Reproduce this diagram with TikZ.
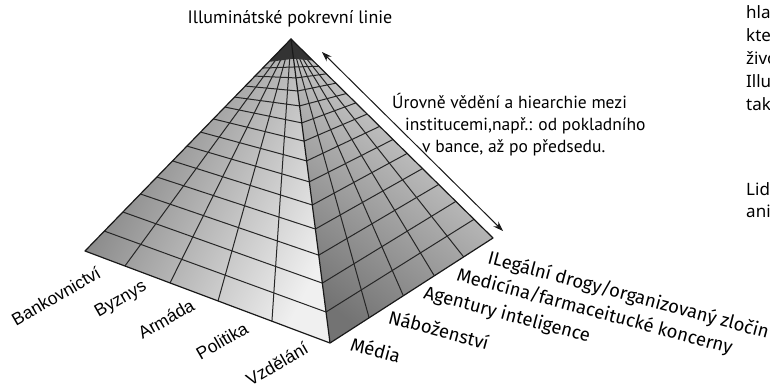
\documentclass[tikz,border=0pt]{standalone}
\usepackage{fontspec}
\newfontfamily\topfont{PT Sans}
\newfontfamily\leftfont{Liberation Sans}
\newfontfamily\rightfont{Fira Sans}
\newfontfamily\sidefont{Noto Sans}
\usetikzlibrary{calc,arrows.meta}
\begin{document}
\begin{tikzpicture}[x=1pt,y=-1pt,
  gridline/.style={line width=1pt, draw=black!85},
  edgeline/.style={line width=1.2pt, draw=black!90, line join=round},
  baselabel/.style={font=\leftfont\fontsize{17.5}{20}\selectfont, rotate=30, inner sep=0pt},
  sidelabel/.style={font=\rightfont\fontsize{18.5}{22}\selectfont, rotate=-15, anchor=west, inner sep=0pt},
  notetext/.style={font=\topfont\fontsize{17.5}{20}\selectfont, inner sep=0pt, anchor=base west},
  cuttext/.style={font=\sidefont\fontsize{17}{20}\selectfont, inner sep=0pt, anchor=base west},
  levelarrow/.style={{Stealth[length=10pt,width=7pt]}-{Stealth[length=10pt,width=7pt]}, line width=1pt, draw=black!90}
]
\useasboundingbox (0,0) rectangle (770,389);

\coordinate (A) at (291,39);
\coordinate (L) at (85,251);
\coordinate (F) at (330,343);
\coordinate (R) at (493,238);

% left face shading
\begin{scope}
  \clip (A) -- (L) -- (F) -- cycle;
  \shade[top color=black!55, bottom color=black!6, shading angle=63] (85,39) rectangle (330,343);
\end{scope}
% right face shading
\begin{scope}
  \clip (A) -- (F) -- (R) -- cycle;
  \shade[top color=black!55, bottom color=black!12, shading angle=143] (291,39) rectangle (493,343);
\end{scope}

% rows
\foreach \a/\b in {.094/.102,.184/.197,.269/.289,.349/.375,.425/.454,.495/.530,.561/.599,.623/.664,.679/.724,.726/.780,.778/.829,.825/.872,.863/.908}{
  \draw[gridline] ($(L)!\a!(A)$) -- ($(F)!\b!(A)$) -- ($(R)!\a!(A)$);
}
% columns
\foreach \t in {.163,.347,.543,.763}{
  \draw[gridline] ($(L)!\t!(F)$) -- (A);
}
\foreach \t in {.24,.45,.64,.82}{
  \draw[gridline] ($(F)!\t!(R)$) -- (A);
}
% cap
\fill[black!80] (A) -- ($(L)!.892!(A)$) -- ($(F)!.935!(A)$) -- ($(R)!.892!(A)$) -- cycle;
% edges
\draw[edgeline] (L) -- (A) -- (R) -- (F) -- cycle;
\draw[edgeline] (A) -- (F);

% arrow
\coordinate (T1) at (322,52);
\coordinate (T2) at (503,231);
\draw[levelarrow] (T1) -- (T2);

% title
\node[font=\topfont\fontsize{18}{20}\selectfont, inner sep=0pt, anchor=base] (title) at (290,23) {Illuminátské pokrevní linie};

% note
\node[notetext] (n1) at (392,108) {Úrovně vědění a hiearchie mezi};
\node[notetext] (n2) at (405,130) {institucemi,např.: od pokladního};
\node[notetext] (n3) at (422,152) {v bance, až po předsedu.};

% left labels
\node[baselabel] (b1) at (56,296) {Bankovnictví};
\node[baselabel] (b2) at (121,300) {Byznys};
\node[baselabel] (b3) at (166,319) {Armáda};
\node[baselabel] (b4) at (222,341) {Politika};
\node[baselabel] (b5) at (277,364) {Vzdělání};

% right labels
\node[sidelabel] (r1) at (488,258) {ILegální drogy/organizovaný zločin};
\node[sidelabel] (r2) at (457,275) {Medicína/farmaceitucké koncerny};
\node[sidelabel] (r3) at (424,293) {Agentury inteligence};
\node[sidelabel] (r4) at (389,316) {Náboženství};
\node[sidelabel] (r5) at (351,343) {Média};

% cut-off text at the right edge
\begin{scope}
  \clip (0,0) rectangle (770,389);
  \node[cuttext] (c1) at (746,18) {hla};
  \node[cuttext] (c2) at (746,41) {kte};
  \node[cuttext] (c3) at (746,64) {živo};
  \node[cuttext] (c4) at (746,87) {Illu};
  \node[cuttext] (c5) at (746,110) {tak};
  \node[cuttext] (c6) at (746,195) {Lid};
  \node[cuttext] (c7) at (746,217) {ani};
\end{scope}
\end{tikzpicture}
\end{document}
